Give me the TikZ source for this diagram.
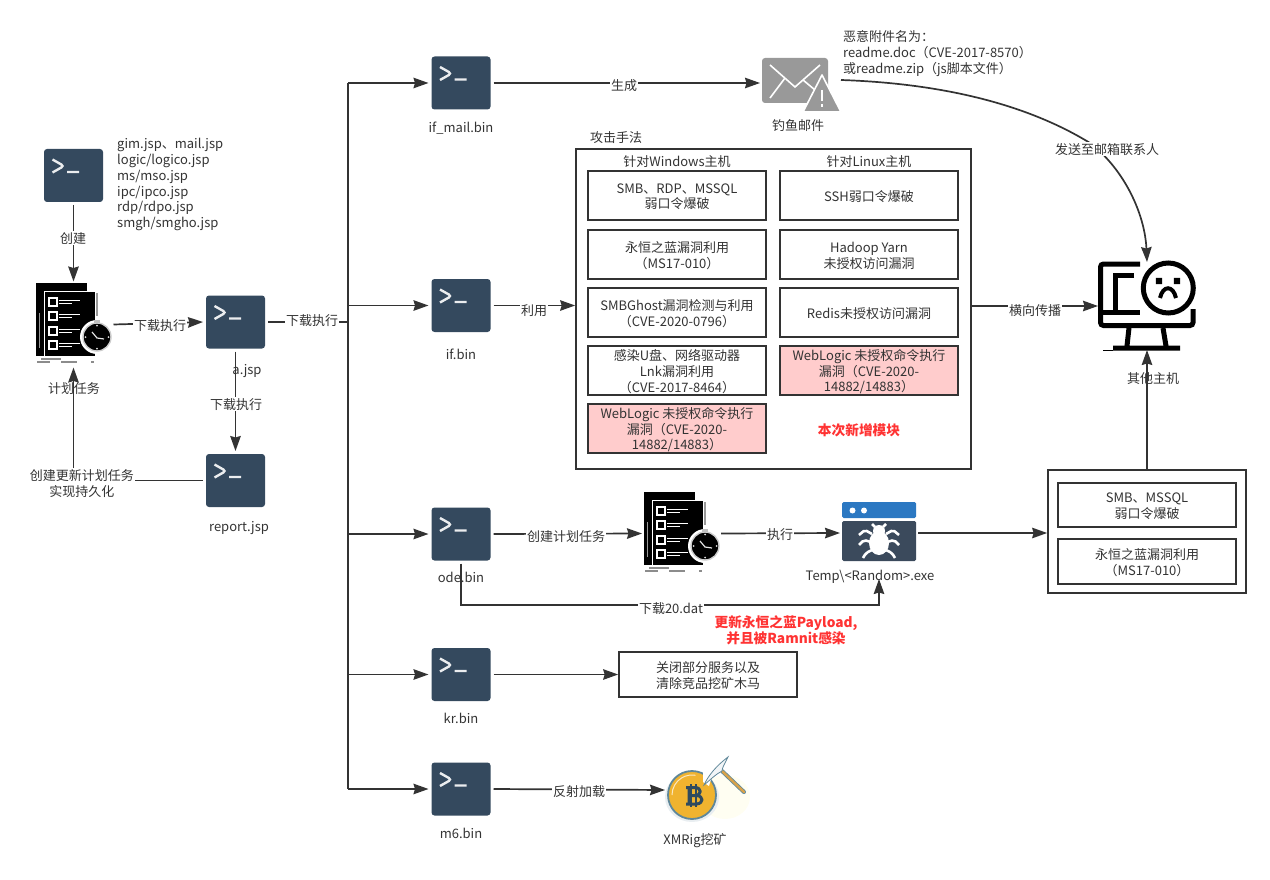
\documentclass[tikz,border=0pt]{standalone}
\usepackage{fontspec}
\setmainfont{Noto Sans CJK SC}
\usetikzlibrary{arrows.meta,positioning,calc}
\definecolor{ink}{HTML}{333333}
\definecolor{termblue}{HTML}{34495E}
\definecolor{alarm}{HTML}{FF3333}
\definecolor{pink}{HTML}{FFCCCC}
\definecolor{mailgray}{HTML}{999999}
\definecolor{bugblue}{HTML}{2B78C2}
\definecolor{bugdark}{HTML}{3B4A5C}
\definecolor{coinyellow}{HTML}{F0B32F}
\definecolor{coinedge}{HTML}{5F8799}
\definecolor{coindark}{HTML}{2F4A5E}
\definecolor{handle}{HTML}{D8A24A}
\tikzset{
  term/.style  ={rounded corners=3pt,fill=termblue,minimum width=59pt,minimum height=53pt,
                 inner sep=0pt,outer sep=3pt,
                 path picture={\draw[white!90!termblue,line width=2.4pt]
                   ([shift={(8.5,10.5)}]path picture bounding box.north west)
                   -- ++(11.5,6.5) -- ++(-11.5,6.5)
                   ([shift={(23,23)}]path picture bounding box.north west) -- ++(12,0);}},
  icon/.style  ={inner sep=0pt,outer sep=2pt},
  box/.style   ={draw=ink,line width=1.7pt,fill=white,minimum width=178pt,minimum height=49pt,
                 inner sep=0pt},
  hotbox/.style={box,fill=pink},
  zone/.style  ={draw=ink,line width=1.7pt,fill=white,inner sep=0pt},
  txt/.style   ={text=ink,align=center,inner sep=0pt,yshift=-1.2pt},
  lab/.style   ={txt,fill=white,inner sep=1pt},
  redtxt/.style={text=alarm,align=center,inner sep=0pt,yshift=-1pt,
                 font=\fontsize{13.7}{16.5}\selectfont\bfseries},
  flow/.style  ={-{Stealth[length=15pt,width=10.5pt,inset=1.5pt]},line width=1.7pt,draw=ink},
  wire/.style  ={line width=1.7pt,draw=ink},
  tasklist/.pic={
    \fill[black] (0,0) rectangle (51,73);
    \draw[white!60!black,line width=1pt] (3,30) -- (3,65);
    \fill[black,draw=white,line width=1pt] (8,8) rectangle (59,73);
    \draw[white!60!black,line width=2pt] (61,10) -- (61,33);
    \foreach \r in {19,33,48,62}{
      \draw[white,line width=1.3pt] (13,\r-4) rectangle (21,\r+4);
      \draw[white,line width=1.4pt] (23,\r-1.5) -- (44,\r-1.5) (23,\r+1.5) -- (36,\r+1.5);
    }
    \fill[white] (61,54) circle (17);
    \fill[black,draw=white!80!black,line width=1.4pt] (61,54) circle (14);
    \fill[white!75!black] (58,37) rectangle (64,40);
    \draw[white!90!black,line width=1.2pt] (56,49) -- (61,55) -- (68,56);
    \foreach \a in {0,90,180,270}{\fill[white!85!black] ($(61,54)+(\a:11.5)$) circle (1);}
    \draw[white!55!black,line width=1.2pt] (1,79) -- (14,79) (25,79) -- (41,79) (55,79) -- (58,79)
      (5,76) -- (25,76);
  }
}
\newcommand{\cell}[4]{\node[#1] (#2) at (#3) {}; \node[txt] (#2text) at (#2) {#4};}
\begin{document}
\begin{tikzpicture}[x=1pt,y=-1pt,font=\fontsize{13}{15.8}\selectfont]
  \useasboundingbox (0,0) rectangle (1270,880);

  \node[term] (gim) at (73.5,175.5) {};
  \node[icon,minimum width=76pt,minimum height=82pt] (tasks) at (73.5,324.5) {};
  \pic at (36,283) {tasklist};
  \node[term] (ajsp) at (235.5,322) {};
  \node[term] (report) at (235.5,480.5) {};
  \node[term] (ifmail) at (461,83) {};
  \node[term] (ifbin) at (461,305.5) {};
  \node[term] (ode) at (461,534) {};
  \node[term] (kr) at (461,674.5) {};
  \node[term] (msix) at (461,789) {};

  \coordinate (bustop) at (348,83);
  \coordinate (busa) at (348,322);
  \coordinate (busbot) at (348,789);
  \coordinate (bugin) at (879,579);

  \node[icon,minimum width=77pt,minimum height=53pt] (mail) at (800.5,83) {};
  \fill[mailgray,rounded corners=3pt] (762,58) rectangle (828,103);
  \draw[white,line width=1.6pt] (770,65) -- (795,87) -- (820,65) (770,98) -- (785,78) (803,80) -- (815,90);
  \fill[mailgray,draw=white,line width=1.6pt,line join=round] (822,75) -- (841,112) -- (803,112) -- cycle;
  \draw[white,line width=2.4pt] (822,90) -- (822,101) (822,104) -- (822,107.5);

  \node[icon,minimum width=75pt,minimum height=83pt] (tasksb) at (681.5,533.5) {};
  \pic at (644,492) {tasklist};

  \node[icon,minimum width=74pt,minimum height=60pt] (bug) at (879,533) {};
  \fill[bugblue,rounded corners=1.5pt] (842,502) rectangle (916,518);
  \fill[bugdark,rounded corners=1.5pt] (842,521) rectangle (916,561);
  \fill[white] (852.5,510.5) circle (3) (864,510.5) circle (3);
  \fill[white] (879,543) ellipse (10 and 12) (879,531) circle (6);
  \foreach \s in {1,-1}{
    \begin{scope}[shift={(879,0)},xscale=\s]
      \draw[white,line width=2.6pt,rounded corners=2pt] (4,527) -- (7,524) (7,534) -- (14,530) -- (20,535)
        (8,542) -- (15,540) -- (20,545) (7,550) -- (13,553) -- (16,558);
    \end{scope}
  }

  \node[icon,outer sep=0pt,minimum width=98pt,minimum height=88pt] (sad) at (1147,306) {};
  \draw[black,line width=5pt,rounded corners=3pt] (1140,264) -- (1100.5,264) -- (1100.5,325.5)
    -- (1193,325.5) -- (1193,309);
  \draw[black,line width=5pt] (1134,275.5) -- (1115.5,275.5) -- (1115.5,312) (1101,312) -- (1140,312);
  \draw[black,line width=5pt] (1168.3,288) circle (25);
  \fill[black] (1155.8,277.8) rectangle (1162.2,284.2) (1173.8,277.8) rectangle (1180.2,284.2);
  \draw[black,line width=4pt] (1160,298) .. controls (1163,285) and (1173,285) .. (1176,298);
  \draw[black,line width=5pt] (1129,328) -- (1127,346) (1163,328) -- (1166,346) (1113,348) -- (1180,348);
  \draw[black,line width=1pt] (1103,350) -- (1113,350);

  \node[icon,minimum width=76pt,minimum height=60pt] (coin) at (705,790) {};
  \fill[yellow!5!white] (725,797) ellipse (25 and 22);
  \fill[coinedge!14!white] (692,797) ellipse (27 and 25);
  \fill[coinyellow,draw=coinedge,line width=1.8pt] (692,795) circle (24);
  \fill[white] (703,769) -- (714,769) -- (709,786) -- (703,782) -- cycle;
  \draw[white!70!coinyellow,line width=1pt] (672,795) arc[start angle=180,end angle=280,radius=20];
  \draw[coindark,line width=2pt] (691,784) -- (691,807) (696,784) -- (696,807);
  \draw[coindark,line width=3pt,line join=round]
    (686,787.5) -- (695,787.5) .. controls (702,787.5) and (702,795.5) .. (695,795.5) -- (689,795.5) -- (696,795.5)
    .. controls (704,795.5) and (704,804) .. (696,804) -- (686,804) (689,787.5) -- (689,804);
  \draw[coinedge,line width=4pt,line cap=round] (722,771) -- (744,792);
  \draw[handle,line width=2.4pt,line cap=round] (722,771) -- (744,792);
  \draw[coinedge,line width=.8pt,fill=white!92!coinedge] (704,785) .. controls (708,776) and (716,766) .. (728,757)
    .. controls (725,763) and (722,768) .. (722,771) .. controls (716,774) and (710,780) .. (704,785) -- cycle;

  \node[zone,minimum width=395pt,minimum height=320pt] (attack) at (773.5,309) {};
  \cell{box}{winweak}{677,195.5}{SMB、RDP、MSSQL\\弱口令爆破}
  \cell{box}{eternal}{677,254.5}{永恒之蓝漏洞利用\\（MS17-010）}
  \cell{box}{smbghost}{677,312.5}{SMBGhost漏洞检测与利用\\（CVE-2020-0796）}
  \cell{box}{usblnk}{677,370.5}{感染U盘、网络驱动器\\Lnk漏洞利用\\（CVE-2017-8464）}
  \cell{hotbox}{wlwin}{677,428.5}{WebLogic 未授权命令执行\\漏洞（CVE-2020-\\14882/14883）}
  \cell{box}{sshweak}{869,195.5}{SSH弱口令爆破}
  \cell{box}{hadoop}{869,254.5}{Hadoop Yarn\\未授权访问漏洞}
  \cell{box}{redis}{869,312.5}{Redis未授权访问漏洞}
  \cell{hotbox}{wllinux}{869,370.5}{WebLogic 未授权命令执行\\漏洞（CVE-2020-\\14882/14883）}
  \node[txt] (winhead) at (677,160) {针对Windows主机};
  \node[txt] (linuxhead) at (869,160) {针对Linux主机};
  \node[txt] (attacktitle) at (616,136) {攻击手法};
  \node[redtxt] (newmod) at (859,429) {本次新增模块};

  \node[zone,minimum width=198pt,minimum height=123pt] (lateral) at (1147,531.5) {};
  \cell{box,minimum height=44pt}{lateralweak}{1147,505}{SMB、MSSQL\\弱口令爆破}
  \cell{box,minimum height=45pt}{lateraleternal}{1147,561.5}{永恒之蓝漏洞利用\\（MS17-010）}

  \cell{box,minimum height=45pt}{killbox}{708,674.5}{关闭部分服务以及\\清除竞品挖矿木马}

  \draw[flow] (gim.south) -- (tasks.north);
  \draw[flow] (tasks.east) -- (ajsp.west);
  \draw[flow] (ajsp.south) -- (report.north);
  \draw[flow] (report.west) -| (tasks.south);
  \draw[wire] (ajsp.east) -- (busa);
  \draw[wire] (bustop) -- (busbot);
  \draw[flow] (bustop) -- (ifmail.west);
  \draw[flow] (bustop |- ifbin) -- (ifbin.west);
  \draw[flow] (bustop |- ode) -- (ode.west);
  \draw[flow] (bustop |- kr) -- (kr.west);
  \draw[flow] (busbot) -- (msix.west);
  \draw[flow] (ifmail.east) -- (mail.west);
  \draw[flow] (ifbin.east) -- (ifbin -| attack.west);
  \draw[flow] (ode.east) -- (tasksb.west);
  \draw[flow] (tasksb.east) -- (bug.west);
  \draw[flow] (bug.east) -- (bug -| lateral.west);
  \draw[flow] (ode.south) |- (bugin |- 0,605) -- (bugin);
  \draw[flow] (kr.east) -- (killbox.west);
  \draw[flow] (msix.east) -- (coin.west);
  \draw[flow] (sad -| attack.east) -- (sad.west);
  \draw[flow] (lateral.north) -- (sad.south);
  \draw[flow] ($(mail.east)+(0,-3)$) .. controls (930,83) and (1020,100) .. (1090,143)
    .. controls (1125,170) and (1145,215) .. (sad.north);

  \node[lab] (lbcreate) at (73,237) {创建};
  \node[lab] (lbrun) at (160,324) {下载执行};
  \node[lab] (lbbus) at (312,319.5) {下载执行};
  \node[lab] (lbrunb) at (236,403) {下载执行};
  \node[lab] (lbpersist) at (82,482) {创建更新计划任务\\实现持久化};
  \node[lab] (lbgen) at (624,84) {生成};
  \node[lab] (lbuse) at (534,309) {利用};
  \node[lab] (lbsched) at (566,535) {创建计划任务};
  \node[lab] (lbexec) at (780,533) {执行};
  \node[lab] (lbdl) at (671,607) {下载20.dat};
  \node[lab] (lbload) at (579,790) {反射加载};
  \node[lab] (lbspread) at (1035,309) {横向传播};
  \node[lab] (lbsend) at (1107,148) {发送至邮箱联系人};

  \node[txt,anchor=north west,align=left] (jsplist) at (117,137) {gim.jsp、mail.jsp\\logic/logico.jsp\\ms/mso.jsp\\ipc/ipco.jsp\\rdp/rdpo.jsp\\smgh/smgho.jsp};
  \node[txt] (nametasks) at (74,387) {计划任务};
  \node[txt] (namea) at (247,370) {a.jsp};
  \node[txt] (namereport) at (239,527) {report.jsp};
  \node[txt] (nameifmail) at (461,127) {if\_mail.bin};
  \node[txt] (nameif) at (461,353) {if.bin};
  \node[txt] (nameode) at (461,576) {ode.bin};
  \node[txt] (namekr) at (461,717) {kr.bin};
  \node[txt] (namem) at (461,832) {m6.bin};
  \node[txt] (namemail) at (798,124) {钓鱼邮件};
  \node[txt,anchor=north west,align=left] (mailnote) at (843,29) {恶意附件名为：\\readme.doc（CVE-2017-8570）\\或readme.zip（js脚本文件）};
  \node[txt] (nametemp) at (870,576) {Temp\textbackslash<Random>.exe};
  \node[txt] (namecoin) at (695,839) {XMRig挖矿};
  \node[redtxt] (ramnit) at (786,629) {更新永恒之蓝Payload,\\并且被Ramnit感染};
  \node[txt] (namesad) at (1153,377) {其他主机};
\end{tikzpicture}
\end{document}
